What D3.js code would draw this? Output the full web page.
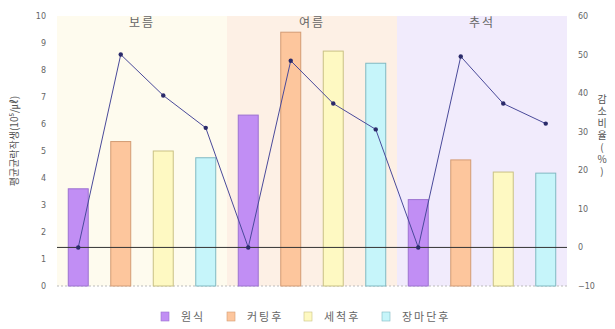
<!DOCTYPE html>
<html><head><meta charset="utf-8">
<script src="https://cdn.jsdelivr.net/npm/d3@7"></script>
<style>body{margin:0;background:#fff}svg{display:block;font-family:"Noto Sans CJK KR","Noto Sans",sans-serif}</style>
</head><body><svg id="c" width="615" height="329"></svg>
<script>
const sections = ["보름", "여름", "추석"];
const seriesNames = ["원식", "커팅후", "세척후", "장마단후"];
const countValues = [
  [3.6, 5.35, 5.0, 4.75],
  [6.33, 9.4, 8.7, 8.25],
  [3.2, 4.67, 4.22, 4.18]
];
const rateValues = [
  [0, 50, 39.4, 31],
  [0, 48.4, 37.3, 30.6],
  [0, 49.5, 37.3, 32.1]
];
const leftTicks = [0,1,2,3,4,5,6,7,8,9,10];
const rightTicks = [-10,0,10,20,30,40,50,60];
const leftTitle = "평균균락작생(10⁵/㎕)";
const rightTitle = "감소비율(%)";

const fills = ["#c18ef4", "#fdc69d", "#fef9c2", "#c6f5fa"];
const strokes = ["#9c72d0", "#d39c74", "#c9c184", "#80b9c2"];
const bgs = ["#fefbee", "#fdf0e5", "#f1ebfc"];

const svg = d3.select("#c");
const L = 57, R = 567, T = 16, B = 286;

const slots = [];
sections.forEach((s, i) => seriesNames.forEach((n, j) => slots.push({s: i, j, key: i + "-" + j,
  v: countValues[i][j], r: rateValues[i][j]})));

const xSec = d3.scaleBand().domain(sections).range([L, R]).padding(0);
const x = d3.scaleBand().domain(slots.map(d => d.key)).range([L, R]).paddingInner(0.53).paddingOuter(0.265);
const yL = d3.scaleLinear().domain([0, 10]).range([B, T]);
const yR = d3.scaleLinear().domain([-10, 60]).range([B, T]);

svg.selectAll("rect.bg").data(sections).join("rect")
  .attr("x", d => xSec(d)).attr("y", T).attr("width", xSec.bandwidth()).attr("height", B - T)
  .attr("fill", (d, i) => bgs[i]);

svg.append("line").attr("x1", L).attr("x2", R).attr("y1", B).attr("y2", B)
  .attr("stroke", "#bbb").attr("stroke-dasharray", "2,2");

svg.selectAll("rect.bar").data(slots).join("rect")
  .attr("x", d => x(d.key)).attr("width", x.bandwidth())
  .attr("y", d => yL(d.v)).attr("height", d => yL(0) - yL(d.v))
  .attr("fill", d => fills[d.j]).attr("stroke", d => strokes[d.j]).attr("stroke-width", 1);

svg.append("line").attr("x1", L).attr("x2", R).attr("y1", yR(0)).attr("y2", yR(0))
  .attr("stroke", "#333").attr("stroke-width", 1);

const line = d3.line().x(d => x(d.key) + x.bandwidth() / 2).y(d => yR(d.r));
svg.append("path").datum(slots).attr("d", line).attr("fill", "none")
  .attr("stroke", "#4a4a9a").attr("stroke-width", 1);
svg.selectAll("circle.pt").data(slots).join("circle")
  .attr("cx", d => x(d.key) + x.bandwidth() / 2).attr("cy", d => yR(d.r)).attr("r", 2.2)
  .attr("fill", "#2a2a6a");

svg.selectAll("text.sec").data(sections).join("text")
  .attr("x", d => xSec(d) + xSec.bandwidth() / 2).attr("y", 27)
  .attr("text-anchor", "middle").attr("font-size", 12).attr("letter-spacing", 2)
  .attr("fill", "#666").text(d => d);

const axL = svg.append("g").attr("transform", `translate(${L - 8},0)`)
  .call(d3.axisLeft(yL).tickValues(leftTicks).tickSize(0).tickFormat(d3.format("d")));
axL.select(".domain").remove();
axL.selectAll("text").attr("font-size", 8).attr("fill", "#666").attr("font-family", "DejaVu Sans");

const axR = svg.append("g").attr("transform", `translate(${R + 8},0)`)
  .call(d3.axisRight(yR).tickValues(rightTicks).tickSize(0).tickFormat(d3.format("d")));
axR.select(".domain").remove();
axR.selectAll("text").attr("font-size", 8).attr("fill", "#666").attr("font-family", "DejaVu Sans");

svg.append("text").attr("transform", `translate(18,${(T + B) / 2 - 10}) rotate(-90)`)
  .attr("text-anchor", "middle").attr("font-size", 10).attr("fill", "#555").text(leftTitle);

svg.append("text").attr("x", 602).attr("y", 94)
  .style("writing-mode", "vertical-rl").style("text-orientation", "upright")
  .attr("font-size", 10).attr("letter-spacing", 2).attr("fill", "#555").text(rightTitle);

const legX = [161, 227, 304, 382];
const lg = svg.selectAll("g.leg").data(seriesNames).join("g")
  .attr("transform", (d, i) => `translate(${legX[i]},317)`);
lg.append("rect").attr("x", 0).attr("y", -5).attr("width", 8).attr("height", 9)
  .attr("fill", (d, i) => fills[i]).attr("stroke", (d, i) => strokes[i]).attr("stroke-width", 0.6);
lg.append("text").attr("x", 20).attr("y", 4).attr("font-size", 11).attr("letter-spacing", 2)
  .attr("fill", "#666").text(d => d);
</script></body></html>
